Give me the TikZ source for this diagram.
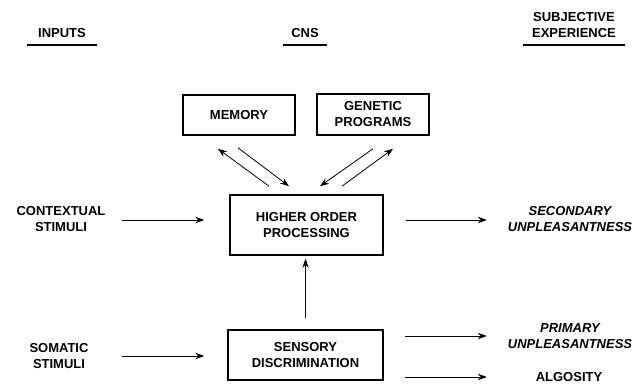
\documentclass[tikz,border=0pt]{standalone}
\usepackage{fontspec}
\setmainfont{Liberation Sans}
\usetikzlibrary{arrows.meta}
\newcommand{\diagfont}{\fontsize{13}{16}\selectfont}
\tikzset{%
  every box/.style={
    draw,
    line width=1.6pt,
    font=\diagfont\bfseries,
    align=center,
    inner sep=0pt
  },
  plain label/.style={
    font=\diagfont\bfseries,
    align=center
  },
  outcome/.style={
    font=\diagfont\bfseries\itshape,
    align=center
  },
  header/.style={
    font=\diagfont\bfseries,
    align=center,
    anchor=south,
    inner xsep=0pt,
    inner ysep=7pt
  },
  underline/.style={line width=2.2pt},
  link/.style={-{Stealth[length=9pt,width=6.5pt]}, line width=0.8pt},
}

\begin{document}
\begin{tikzpicture}[x=1pt, y=-1pt]

            \useasboundingbox (0,0) rectangle (635,386);

            % Column headings with rules under them
            \node [header, minimum width=70pt] (inputs) at (62,45) {INPUTS};
            \node [header, minimum width=44pt] (cns) at (305,45) {CNS};
            \node [header, minimum width=102pt] (subj) at (574,45) {SUBJECTIVE\\EXPERIENCE};
            \foreach \h in {inputs,cns,subj}
              \draw [underline] (\h.south west) -- (\h.south east);

            % CNS boxes
            \node [every box, minimum width=112pt, minimum height=40pt] (memory) at (239,115) {MEMORY};
            \node [every box, minimum width=112pt, minimum height=41pt] (genetic) at (373,114.5) {GENETIC\\PROGRAMS};
            \node [every box, minimum width=153pt, minimum height=60pt] (hop) at (306.5,225) {HIGHER ORDER\\PROCESSING};
            \node [every box, minimum width=155pt, minimum height=50pt] (sens) at (305.5,355) {SENSORY\\DISCRIMINATION};

            % Inputs
            \node [plain label] (ctx) at (61,219) {CONTEXTUAL\\STIMULI};
            \node [plain label] (som) at (59,356) {SOMATIC\\STIMULI};

            % Experience
            \node [outcome] (sec) at (570,219) {SECONDARY\\UNPLEASANTNESS};
            \node [outcome] (prim) at (570,336) {PRIMARY\\UNPLEASANTNESS};
            \node [plain label] (alg) at (569,377) {ALGOSITY};

            % Inputs into the boxes
            \draw [link] ([xshift=13pt]ctx.east |- 0,220) -- ([xshift=-25pt]hop.west |- 0,220);
            \draw [link] ([xshift=13pt]ctx.east |- som.east) -- ([xshift=-23pt]sens.west |- som.east);

            % Sensory up to higher order
            \draw [link] ([yshift=11pt]sens.north) -- ([yshift=-3pt]hop.south -| sens.north);

            % Two-way links with memory and genetic programs
            \draw [link] ([shift={(-37.5pt,8pt)}]hop.north) -- ([shift={(-21pt,-13pt)}]memory.south);
            \draw [link] ([shift={(-1pt,-12pt)}]memory.south) -- ([shift={(-17.5pt,8pt)}]hop.north);
            \draw [link] ([shift={(0pt,-13pt)}]genetic.south) -- ([shift={(13.5pt,8pt)}]hop.north);
            \draw [link] ([shift={(35.5pt,8pt)}]hop.north) -- ([shift={(20pt,-13pt)}]genetic.south);

            % Outputs to experience
            \draw [link] ([xshift=22pt]hop.east |- 0,220) -- ([xshift=-17.5pt]sec.west |- 0,220);
            \draw [link] ([xshift=21pt]sens.east |- prim.west) -- ([xshift=-17.5pt]prim.west);
            \draw [link] ([xshift=21pt]sens.east |- alg.west) -- ([xshift=-17.5pt]prim.west |- alg.west);

\end{tikzpicture}
\end{document}
